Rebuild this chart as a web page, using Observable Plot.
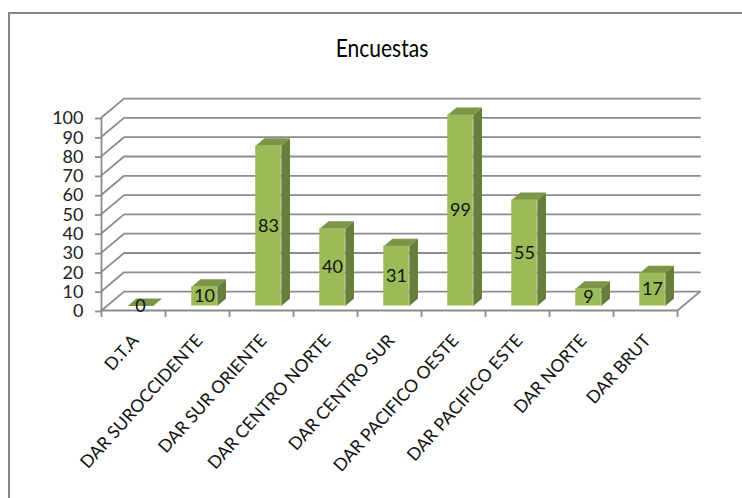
<!DOCTYPE html>
<html>
<head>
<meta charset="utf-8">
<script src="https://cdn.jsdelivr.net/npm/d3@7"></script>
<script src="https://cdn.jsdelivr.net/npm/@observablehq/plot@0.6"></script>
<style>
html,body{margin:0;padding:0;background:#fff;overflow:hidden}
#wrap{position:relative;width:742px;height:498px;overflow:hidden;font-family:Lato,sans-serif}
#frame{position:absolute;left:8px;top:12px;width:800px;height:600px;border:2px solid #868686;box-sizing:border-box}
#title{position:absolute;left:0;top:35px;width:764px;text-align:center;font-size:21px;line-height:26px;color:#000;transform:scaleY(1.15)}
#chart{position:absolute;left:0;top:0}
svg{background:transparent!important}
</style>
</head>
<body>
<div id="wrap">
<div id="frame"></div>
<div id="title">Encuestas</div>
<div id="chart"></div>
</div>
<script>
const categories = ["D.T.A","DAR SUROCCIDENTE","DAR SUR ORIENTE","DAR CENTRO NORTE","DAR CENTRO SUR","DAR PACIFICO OESTE","DAR PACIFICO ESTE","DAR NORTE","DAR BRUT"];
const encuestas = [0,10,83,40,31,99,55,9,17];
const yTicks = d3.range(0,101,10);

const wallDX = 0.352, wallDY = 9.8;   // depth of the 3D floor
const barW = 0.4, barShift = 0.11, barBase = 2.3, barDX = 0.135, barDY = 3.9;

const bars = encuestas.map((v,i)=>{
  const x1 = i+0.5+barShift-barW/2, x2 = x1+barW, y1 = barBase, y2 = barBase+v;
  return {i,v,x1,x2,y1,y2,xc:(x1+x2)/2,ym:(y1+y2)/2};
});
const poly = (pts,id)=>pts.map(([x,y])=>({x,y,id}));
const topFaces = bars.flatMap(b=>poly([[b.x1,b.y2],[b.x2,b.y2],[b.x2+barDX,b.y2+barDY],[b.x1+barDX,b.y2+barDY],[b.x1,b.y2]],b.i));
const sideFaces = bars.filter(b=>b.v>0).flatMap(b=>poly([[b.x2,b.y1],[b.x2+barDX,b.y1+barDY],[b.x2+barDX,b.y2+barDY],[b.x2,b.y2],[b.x2,b.y1]],b.i));
const grid = yTicks.flatMap(t=>poly([[0,t],[wallDX,t+wallDY],[9+wallDX,t+wallDY]],t));
const floorEdge = poly([[0,0],[9,0],[9+wallDX,wallDY]],"f");
const gray = "#8c8c8c";

const plot = Plot.plot({
  width:742, height:498,
  marginLeft:101, marginRight:65, marginTop:117, marginBottom:188,
  style:{background:"transparent",fontFamily:"Lato, sans-serif"},
  x:{type:"linear",domain:[0,9]},
  y:{type:"linear",domain:[0,100]},
  marks:[
    Plot.line(grid,{x:"x",y:"y",z:"id",stroke:gray,strokeWidth:1.8}),
    Plot.line(floorEdge,{x:"x",y:"y",z:"id",stroke:gray,strokeWidth:1.8}),
    Plot.ruleX([0],{y1:0,y2:100,stroke:gray,strokeWidth:1.8}),
    Plot.axisY({ticks:yTicks,tickSize:6,tickPadding:12,tickFormat:d=>d,label:null,anchor:"left",
      fontSize:18,stroke:gray,strokeWidth:1.8,fill:"#222",dy:1}),
    Plot.axisX({ticks:d3.range(0,10),tickSize:7,tickPadding:0,tickFormat:()=>"",label:null,anchor:"bottom",
      stroke:gray,strokeWidth:1.8}),
    Plot.line(topFaces,{x:"x",y:"y",z:"id",fill:"#7b9649",stroke:null}),
    Plot.line(sideFaces,{x:"x",y:"y",z:"id",fill:"#667e3a",stroke:null}),
    Plot.rect(bars.filter(b=>b.v>0),{x1:"x1",x2:"x2",y1:"y1",y2:"y2",fill:"#9bbb59"}),
    Plot.text(bars,{x:"xc",y:"ym",text:d=>String(d.v),fontSize:18,fill:"#111"}),
    Plot.text(categories,{x:(d,i)=>i+0.5,y:()=>0,text:d=>d,rotate:-48,textAnchor:"end",
      fontSize:17.5,fill:"#111",dx:2,dy:27})
  ]
});
document.getElementById("chart").append(plot);
</script>
</body>
</html>
